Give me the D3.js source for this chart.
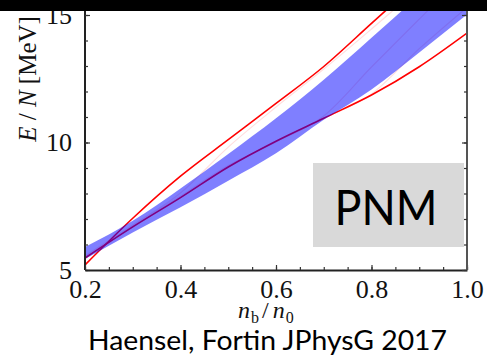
<!DOCTYPE html>
<html>
<head>
<meta charset="utf-8">
<script src="https://cdn.jsdelivr.net/npm/d3@7"></script>
<style>
  body { margin: 0; background: #fff; }
  svg { display: block; }
</style>
</head>
<body>
<div id="chart"></div>
<script>
// densities n_b/n_0 and E/N values
var densities = [0.2, 0.3, 0.4, 0.5, 0.6, 0.7, 0.8, 0.9, 1.0];
var redUpper = [5.20, 7.03, 8.68, 10.11, 11.53, 12.98, 14.67, 16.36, 18.05];
var redLower = [5.47, 6.69, 7.84, 9.04, 10.05, 10.95, 11.86, 12.97, 14.29];
var bandTop = [5.90, 6.93, 8.20, 9.55, 10.95, 12.46, 14.11, 15.78, 17.50];
var bandBottom = [5.43, 6.47, 7.46, 8.50, 9.58, 10.89, 12.08, 13.53, 15.02];
// faint model lines under the band
var faintA = [5.55, 6.76, 8.02, 9.82, 11.39, 12.88, 14.45, 16.06, 17.70];
var faintB = [5.50, 6.72, 7.90, 9.10, 10.02, 11.04, 12.96, 14.84, 16.70];
var faintC = [5.47, 6.69, 7.84, 9.04, 10.05, 10.95, 11.90, 13.68, 15.30];

var xTicks = [0.2, 0.4, 0.6, 0.8, 1.0];
var xMinorTicks = d3.range(0.2, 1.0001, 0.05);
var yTicks = [5, 10, 15];
var yMinorTicks = d3.range(5, 15.5, 1);

var svgWidth = 487;
var svgHeight = 361;

var plot = { left: 85, right: 467, top: 15, bottom: 270 };

var svg = d3.select("#chart")
  .append("svg")
  .attr("width", svgWidth)
  .attr("height", svgHeight);

var xScale = d3.scaleLinear().domain([0.2, 1.0]).range([plot.left, plot.right]);
var yScale = d3.scaleLinear().domain([5, 15]).range([plot.bottom, plot.top]);

svg.append("clipPath")
  .attr("id", "plotClip")
  .append("rect")
  .attr("x", plot.left)
  .attr("y", -20)
  .attr("width", plot.right - plot.left)
  .attr("height", plot.bottom + 20);

var curves = svg.append("g").attr("clip-path", "url(#plotClip)");

var line = d3.line()
  .x(d => xScale(d[0]))
  .y(d => yScale(d[1]))
  .curve(d3.curveMonotoneX);

function pairs(values) {
  return densities.map((n, i) => [n, values[i]]);
}

// faint lines
[faintA, faintB, faintC].forEach(function(vals) {
  curves.append("path")
    .attr("d", line(pairs(vals)))
    .attr("fill", "none")
    .attr("stroke", "#ff0000")
    .attr("stroke-opacity", 0.13)
    .attr("stroke-width", 1.2);
});

// red bounds
[redUpper, redLower].forEach(function(vals) {
  curves.append("path")
    .attr("d", line(pairs(vals)))
    .attr("fill", "none")
    .attr("stroke", "#ff0000")
    .attr("stroke-width", 1.6);
});

// blue band on top (makes red look purple underneath)
var area = d3.area()
  .x(d => xScale(d.n))
  .y0(d => yScale(d.lo))
  .y1(d => yScale(d.hi))
  .curve(d3.curveMonotoneX);

var bandData = densities.map((n, i) => ({ n: n, lo: bandBottom[i], hi: bandTop[i] }));

curves.append("path")
  .attr("d", area(bandData))
  .attr("fill", "#0000ff")
  .attr("fill-opacity", 0.5);

// axes
var tickFont = "'Liberation Serif', 'DejaVu Serif', serif";

var leftAxis = svg.append("g")
  .attr("transform", `translate(${plot.left}, 0)`)
  .call(d3.axisLeft(yScale).tickValues(yTicks).tickSize(-5).tickSizeOuter(0).tickPadding(13).tickFormat(d3.format("d")));

svg.append("g")
  .attr("transform", `translate(${plot.left}, 0)`)
  .call(d3.axisLeft(yScale).tickValues(yMinorTicks).tickSize(-3).tickFormat(""))
  .select(".domain").remove();

var bottomAxis = svg.append("g")
  .attr("transform", `translate(0, ${plot.bottom})`)
  .call(d3.axisBottom(xScale).tickValues(xTicks).tickSize(-5).tickSizeOuter(0).tickPadding(8).tickFormat(d3.format(".1f")));

svg.append("g")
  .attr("transform", `translate(0, ${plot.bottom})`)
  .call(d3.axisBottom(xScale).tickValues(xMinorTicks).tickSize(-3).tickFormat(""))
  .select(".domain").remove();

var rightAxis = svg.append("g")
  .attr("transform", `translate(${plot.right}, 0)`)
  .call(d3.axisRight(yScale).tickValues(yTicks).tickSize(-5).tickSizeOuter(0).tickFormat(""));

svg.append("g")
  .attr("transform", `translate(${plot.right}, 0)`)
  .call(d3.axisRight(yScale).tickValues(yMinorTicks).tickSize(-3).tickFormat(""))
  .select(".domain").remove();

// stretch axis lines up under the black bar
leftAxis.select(".domain").attr("d", `M0,${plot.bottom}V-5`);
rightAxis.select(".domain").attr("d", `M0,${plot.bottom}V-5`);

svg.selectAll(".domain").attr("stroke", "#222").attr("stroke-width", 2);
rightAxis.select(".domain").attr("stroke", "#555");
svg.selectAll(".tick line").attr("stroke", "#333").attr("stroke-width", 1.2);

svg.selectAll(".tick text")
  .attr("font-family", tickFont)
  .attr("font-size", 26)
  .attr("fill", "#111");

bottomAxis.selectAll(".tick text").attr("dy", "0.75em");

// PNM box
svg.append("rect")
  .attr("x", 313)
  .attr("y", 163)
  .attr("width", 151)
  .attr("height", 84)
  .attr("fill", "#d9d9d9");

svg.append("text")
  .attr("x", 386)
  .attr("y", 225)
  .attr("text-anchor", "middle")
  .attr("font-family", "Lato, 'Open Sans', sans-serif")
  .attr("font-size", 48)
  .attr("textLength", 103)
  .attr("lengthAdjust", "spacingAndGlyphs")
  .attr("fill", "#000")
  .text("PNM");

// y axis label
var yLabel = svg.append("text")
  .attr("transform", "translate(36, 79) rotate(-90)")
  .attr("text-anchor", "middle")
  .attr("font-family", tickFont)
  .attr("font-size", 25)
  .attr("fill", "#111");
yLabel.append("tspan").attr("font-style", "italic").text("E");
yLabel.append("tspan").text(" / ");
yLabel.append("tspan").attr("font-style", "italic").text("N");
yLabel.append("tspan").text(" [MeV]");

// x axis label
var xLabel = svg.append("text")
  .attr("x", 238)
  .attr("y", 318)
  .attr("font-family", tickFont)
  .attr("font-size", 24)
  .attr("fill", "#111");
xLabel.append("tspan").attr("font-style", "italic").text("n");
xLabel.append("tspan").attr("font-size", 16).attr("dy", 5).attr("dx", 1).text("b");
xLabel.append("tspan").attr("dy", -5).attr("dx", 3).text("/");
xLabel.append("tspan").attr("font-style", "italic").attr("dx", 4).text("n");
xLabel.append("tspan").attr("font-size", 16).attr("dy", 5).attr("dx", 1).text("0");

// citation
svg.append("text")
  .attr("x", 88)
  .attr("y", 350)
  .attr("font-family", "Lato, 'Open Sans', sans-serif")
  .attr("font-size", 27)
  .attr("textLength", 359)
  .attr("lengthAdjust", "spacingAndGlyphs")
  .attr("fill", "#000")
  .text("Haensel, Fortin JPhysG 2017");

// black strip at the top of the slide
svg.append("rect")
  .attr("x", 0)
  .attr("y", 0)
  .attr("width", svgWidth)
  .attr("height", 11)
  .attr("fill", "#000");
</script>
</body>
</html>
